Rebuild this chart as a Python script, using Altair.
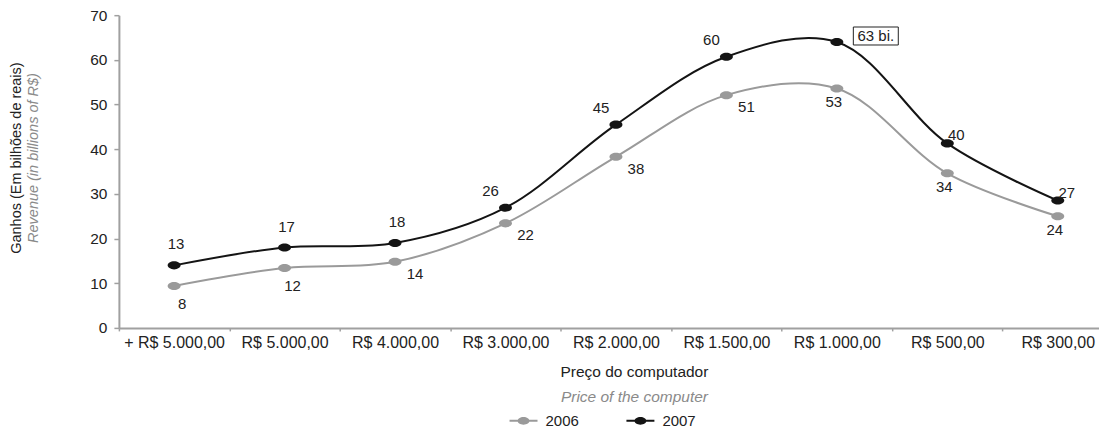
import altair as alt
import pandas as pd

FONT = "Liberation Sans"
GRAY = "#9a9a9a"
BLACK = "#141414"
TXT = "#222222"
SUB = "#8a8a8a"
AX = "#a0a0a0"

categories = ["+ R$ 5.000,00", "R$ 5.000,00", "R$ 4.000,00", "R$ 3.000,00",
              "R$ 2.000,00", "R$ 1.500,00", "R$ 1.000,00", "R$ 500,00", "R$ 300,00"]
years = ["2006", "2007"]
v2006 = [9.4, 13.4, 14.8, 23.4, 38.3, 52.1, 53.6, 34.6, 25.0]
v2007 = [14.0, 18.0, 19.0, 26.9, 45.5, 60.7, 64.0, 41.3, 28.5]
lab2006 = ["8", "12", "14", "22", "38", "51", "53", "34", "24"]
lab2007 = ["13", "17", "18", "26", "45", "60", "63 bi.", "40", "27"]
y_ticks = [0, 10, 20, 30, 40, 50, 60, 70]

rows = []
for i, c in enumerate(categories):
    rows.append(dict(cat=c, year="2006", value=v2006[i], label=lab2006[i], idx=i))
    rows.append(dict(cat=c, year="2007", value=v2007[i], label=lab2007[i], idx=i))
df = pd.DataFrame(rows)

base = alt.Chart(df)

X = alt.X("cat:N", sort=categories, bandPosition=0.5,
          scale=alt.Scale(type="band", range=[0, 995], paddingInner=0, paddingOuter=0),
          axis=alt.Axis(title=None, tickBand="extent", labelAngle=0, labelFont=FONT,
                        labelFontSize=16, labelColor=TXT, labelPadding=4, tickSize=3,
                        tickColor=AX, domainColor=AX, domainWidth=2, tickWidth=1.5))
Y = alt.Y("value:Q", scale=alt.Scale(domain=[0, 70]),
          axis=alt.Axis(title=None, values=y_ticks, grid=False, labelFont=FONT,
                        labelFontSize=15.5, labelColor=TXT, labelPadding=7, tickSize=5,
                        tickColor=AX, domainColor=AX, domainWidth=2, tickWidth=1.5))

LEG_PATH = ("M-1,-0.07L-0.4,-0.07L-0.4,0.07L-1,0.07Z "
            "M0.4,-0.07L1,-0.07L1,0.07L0.4,0.07Z "
            "M-0.43,0A0.43,0.28 0 1,1 0.43,0A0.43,0.28 0 1,1 -0.43,0Z")
legend = alt.Legend(title=None, orient="none", legendX=391, legendY=392,
                    direction="horizontal", symbolType=LEG_PATH, symbolSize=784,
                    symbolStrokeWidth=0, labelFont=FONT, labelFontSize=15,
                    labelColor=TXT, labelOffset=8, columnPadding=47, padding=0)
C = alt.Color("year:N", scale=alt.Scale(domain=years, range=[GRAY, BLACK]), legend=legend)

ELLIPSE = "M-1,0A1,0.62 0 1,1 1,0A1,0.62 0 1,1 -1,0Z"

lines = base.mark_line(interpolate="catmull-rom", strokeWidth=2).encode(X, Y, C)
points = base.mark_point(shape=ELLIPSE, size=169, filled=True, opacity=1).encode(X, Y, C)

BOX = "M-1,-0.4L1,-0.4L1,0.4L-1,0.4Z"
box = base.transform_filter("datum.year == '2007' && datum.idx == 6").mark_point(
    shape=BOX, size=2025, filled=False, fill="white", fillOpacity=1, stroke=TXT,
    strokeWidth=1, opacity=1, xOffset=39, yOffset=-6).encode(X, Y)


def labels(year, idxs, dx, dy):
    cond = "datum.year == '%s' && indexof(%s, datum.idx) >= 0" % (year, str(list(idxs)))
    return base.transform_filter(cond).mark_text(
        dx=dx, dy=dy, font=FONT, fontSize=15, color=TXT,
        align="center", baseline="middle").encode(X, Y, text="label:N")


label_layers = [
    labels("2007", [0, 1, 2], 2, -21),
    labels("2007", [3, 4, 5], -15, -17),
    labels("2007", [6], 39, -6),
    labels("2007", [7, 8], 9, -8),
    labels("2006", [0, 1], 8, 18),
    labels("2006", [2, 3, 4, 5], 20, 12),
    labels("2006", [6, 7, 8], -3, 14),
]

one = alt.Chart(pd.DataFrame({"k": [0]}))
ytitle1 = one.mark_text(text="Ganhos (Em bilhões de reais)", angle=270, font=FONT,
                        fontSize=14.5, color=TXT, align="center", baseline="middle"
                        ).encode(x=alt.value(-102), y=alt.value(143))
ytitle2 = one.mark_text(text="Revenue (in billions of R$)", angle=270, font=FONT,
                        fontSize=14.5, fontStyle="italic", color=SUB, align="center",
                        baseline="middle").encode(x=alt.value(-85), y=alt.value(143))
xtitle1 = one.mark_text(text="Preço do computador", font=FONT, fontSize=15.5, color=TXT,
                        align="center", baseline="middle"
                        ).encode(x=alt.value(516), y=alt.value(357))
xtitle2 = one.mark_text(text="Price of the computer", font=FONT, fontSize=15.5,
                        fontStyle="italic", color=SUB, align="center", baseline="middle"
                        ).encode(x=alt.value(516), y=alt.value(382))

chart = alt.layer(lines, points, box, *label_layers, ytitle1, ytitle2, xtitle1, xtitle2
                  ).properties(
    width=980, height=313,
    padding={"left": 111, "top": 7, "right": 1, "bottom": 101},
    autosize=alt.AutoSizeParams(type="none"),
).configure_view(stroke=None)

chart.save("out.html", embed_options={"renderer": "svg", "actions": False})
